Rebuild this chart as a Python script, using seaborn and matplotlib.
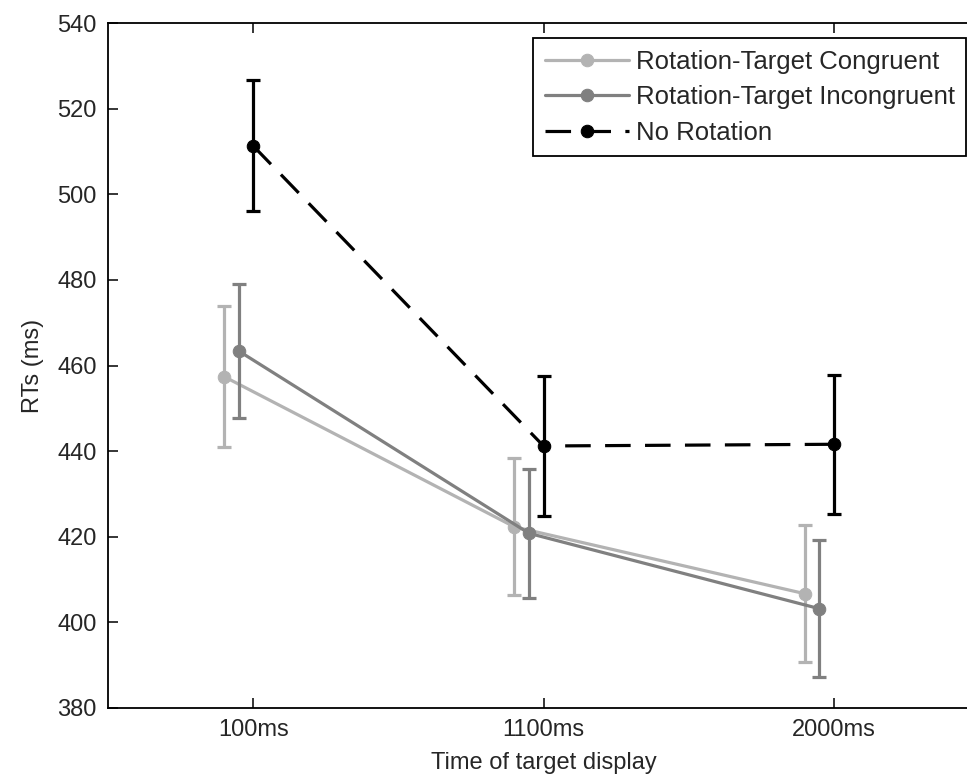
import matplotlib
matplotlib.use("Agg")
import matplotlib.pyplot as plt
import seaborn as sns
import pandas as pd
import numpy as np

# ---- data ----
categories = ["100ms", "1100ms", "2000ms"]
series_names = ["Rotation-Target Congruent", "Rotation-Target Incongruent", "No Rotation"]
congruent = [457.4, 422.3, 406.7]
congruent_err = [16.5, 16.0, 16.0]
incongruent = [463.4, 420.8, 403.2]
incongruent_err = [15.6, 15.0, 16.0]
no_rotation = [511.3, 441.2, 441.6]
no_rotation_err = [15.3, 16.3, 16.2]
y_ticks = [380, 400, 420, 440, 460, 480, 500, 520, 540]

sns.set_style("ticks")
plt.rcParams["font.family"] = ["Liberation Sans", "DejaVu Sans"]

W, H = 967, 781
fig = plt.figure(figsize=(W / 100, H / 100), dpi=100)
# the original axes runs on past the right edge of the image
left_px, right_px, top_px, bottom_px = 108, 979, 23, 708
ax = fig.add_axes([left_px / W, 1 - bottom_px / H, (right_px - left_px) / W, (bottom_px - top_px) / H])

offsets = [-0.1, -0.05, 0.0]
colors = ["#b3b3b3", "#808080", "#000000"]
values = [congruent, incongruent, no_rotation]
errors = [congruent_err, incongruent_err, no_rotation_err]
base_x = np.arange(1, len(categories) + 1)

for name, vals, errs, off, col in zip(series_names, values, errors, offsets, colors):
    df = pd.DataFrame({"x": base_x + off, "rt": vals})
    dashed = name == "No Rotation"
    sns.lineplot(data=df, x="x", y="rt", ax=ax, color=col, lw=2.3,
                 marker="o", markersize=9, markeredgecolor=col,
                 linestyle=(0, (8, 4.5)) if dashed else "-",
                 label=name, sort=False)
    ax.errorbar(df["x"], df["rt"], yerr=errs, fmt="none", ecolor=col,
                elinewidth=2.3, capsize=5, capthick=2.3)

ax.set_xlim(0.5, 3.5)
ax.set_ylim(380, 540)
ax.set_xticks(base_x)
ax.set_xticklabels(categories)
ax.set_yticks(y_ticks)
ax.set_xlabel("Time of target display", fontsize=17, labelpad=8)
ax.set_ylabel("RTs (ms)", fontsize=17, labelpad=10)
ax.tick_params(direction="in", top=True, right=False, length=7, width=1.1,
               labelsize=17, color="black", pad=8)
for side, sp in ax.spines.items():
    sp.set_visible(side != "right")
    sp.set_color("black")
    sp.set_linewidth(1.3)

leg = ax.legend(loc="upper left", bbox_to_anchor=(533 / W, 1 - 38 / H),
                bbox_transform=fig.transFigure, fontsize=18.5, frameon=True,
                fancybox=False, edgecolor="black", handlelength=3.3,
                handletextpad=0.25, labelspacing=0.45, borderpad=0.45,
                borderaxespad=0)
leg.get_frame().set_linewidth(1.3)
leg.get_frame().set_alpha(1)

fig.savefig("out.png", dpi=100, facecolor="white")
